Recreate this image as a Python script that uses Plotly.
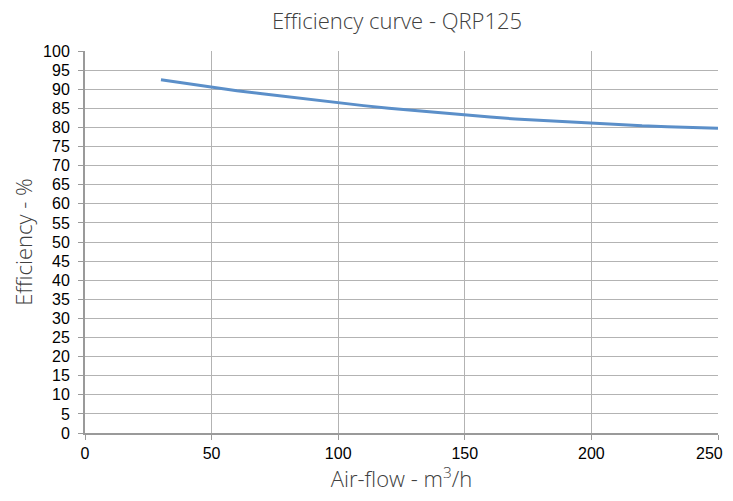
import plotly.graph_objects as go

airflow = [30, 40, 50, 60, 70, 80, 90, 100, 110, 120, 130, 140, 150, 160, 170, 180, 190, 200, 210, 220, 230, 240, 250]
efficiency = [92.5, 91.5, 90.5, 89.6, 88.8, 88.0, 87.2, 86.4, 85.7, 85.0, 84.4, 83.8, 83.2, 82.7, 82.2, 81.8, 81.4, 81.0, 80.7, 80.4, 80.2, 80.0, 79.8]
x_ticks = [0, 50, 100, 150, 200, 250]
x_tick_labels = ["0", "50", "100", "150", "200", "250"]

fig = go.Figure()
fig.add_trace(go.Scatter(x=airflow, y=efficiency, mode="lines", line=dict(color="#5b8fc9", width=3), showlegend=False))

font = "Liberation Sans, Arial, sans-serif"
tfont = "Open Sans, Liberation Sans, sans-serif"
# page body has an 8px margin, so the figure is placed at (8,8)
W, H = 725, 485
fig.update_layout(
    width=W, height=H,
    margin=dict(l=77, r=15, t=43, b=60, autoexpand=False),
    paper_bgcolor="white", plot_bgcolor="white",
    title=dict(text="Efficiency curve - QRP125", x=389 / W, xanchor="center", y=1 - 13 / H, yanchor="middle",
               font=dict(family=tfont, size=22, color="#404040", weight=300)),
    font=dict(family=font, color="#000000"),
)
# last tick label drawn as annotation so it stays fully inside the page
fig.add_annotation(x=x_ticks[-1], xref="x", y=0, yref="paper", text=x_tick_labels[-1], showarrow=False,
                   xanchor="right", yanchor="middle", xshift=7, yshift=-20,
                   font=dict(family=font, size=16, color="#000"))
fig.update_xaxes(range=[0, 250], tickvals=x_ticks, ticktext=x_tick_labels[:-1] + [""], showgrid=True, gridcolor="#b3b3b3", gridwidth=1,
                 showline=True, linecolor="#9a9a9a", linewidth=2, ticks="outside", ticklen=5, tickcolor="#9a9a9a",
                 tickfont=dict(size=16, color="#000"), zeroline=False, automargin=False, ticklabeloverflow="allow",
                 title=dict(text="Air-flow - m<sup>3</sup>/h", font=dict(size=22, color="#404040", family=tfont, weight=300), standoff=19))
fig.update_yaxes(range=[0, 100], dtick=5, showgrid=True, gridcolor="#b3b3b3", gridwidth=1,
                 showline=True, linecolor="#9a9a9a", linewidth=2, ticks="outside", ticklen=5, tickcolor="#9a9a9a",
                 tickfont=dict(size=16, color="#000"), zeroline=False, automargin=False, ticklabelstandoff=5,
                 ticklabeloverflow="allow",
                 title=dict(text="Efficiency - %", font=dict(size=22, color="#404040", family=tfont, weight=300), standoff=17))
fig.write_html("out.html")
